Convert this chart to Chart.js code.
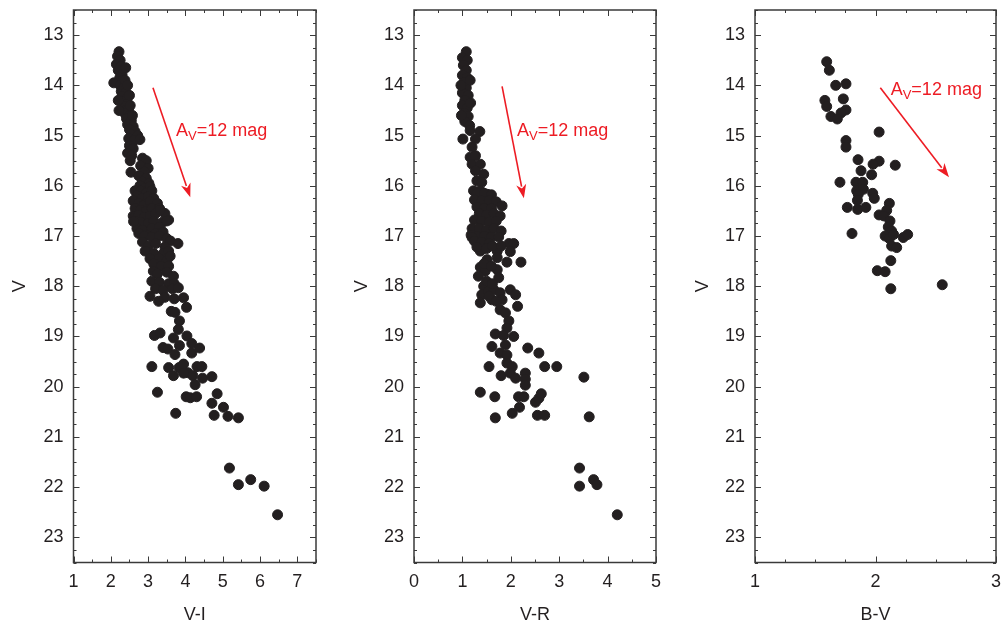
<!DOCTYPE html>
<html><head><meta charset="utf-8">
<script src="https://cdn.jsdelivr.net/npm/chart.js@4/dist/chart.umd.min.js"></script>
<style>
html,body{margin:0;padding:0;background:#fff;overflow:hidden}
#wrap{position:relative;width:1002px;height:629px;background:#fff}
canvas{position:absolute;top:0}
</style></head><body>
<div id="wrap">
<canvas id="c1" width="334" height="629" style="left:0px;width:334px;height:629px"></canvas>
<canvas id="c2" width="334" height="629" style="left:334px;width:334px;height:629px"></canvas>
<canvas id="c3" width="334" height="629" style="left:668px;width:334px;height:629px"></canvas>
</div>
<script>
// ---------- tick labels ----------
const magTicks = [13,14,15,16,17,18,19,20,21,22,23];
const viTicks = [1,2,3,4,5,6,7];
const vrTicks = [0,1,2,3,4,5];
const bvTicks = [1,2,3];
const titles = ['V-I','V-R','B-V'];
const yTitle = 'V';
const arrowLabel = ['A','V','=12 mag'];

// ---------- V-I vs V ----------
const viColor = [2.22,2.18,2.25,2.15,2.28,2.2,2.3,2.24,2.08,2.32,2.25,2.36,2.28,2.4,2.3,2.42,2.33,2.45,2.35,2.4,2.48,2.38,2.5,2.42,2.55,2.45,2.6,2.5,2.65,2.55,2.72,2.48,2.62,2.78,2.5,2.6,2.45,2.56,2.52,2.54,2.85,2.95,2.8,3.0,2.9,2.75,2.95,2.85,3.02,2.78,2.9,3.05,
 2.65,2.8,2.95,3.1,2.7,2.85,3.0,3.15,2.6,2.75,2.9,3.05,3.25,2.65,2.8,2.95,3.1,3.3,2.6,2.75,2.9,3.05,3.2,3.45,2.65,2.8,3.0,3.15,3.4,3.55,2.7,2.85,3.1,3.3,2.75,2.95,3.2,3.4,3.32,3.5,2.61,
 2.9,3.1,3.3,3.5,3.6,3.8,2.85,3.0,3.2,3.45,2.92,3.15,3.4,3.55,3.05,3.3,3.5,3.59,
 3.15,3.35,3.55,3.14,3.25,3.5,3.68,3.1,3.3,3.55,3.7,3.2,3.4,3.65,3.81,3.05,3.45,3.7,3.28,3.95,4.03,3.62,3.72,3.84,3.81,
 3.17,3.32,3.68,4.04,4.17,3.4,3.53,3.72,3.84,4.17,4.38,3.1,3.55,3.83,3.95,4.06,4.31,4.44,3.68,3.95,4.2,4.46,4.71,4.26,3.25,4.02,4.13,4.3,4.85,4.71,5.02,3.74,4.77,5.14,5.42,5.18,5.42,5.75,6.11,6.47,
 2.4,2.38,2.45,2.5,2.52,2.2,2.22,2.58];
const viMag = [13.33,13.42,13.5,13.58,13.62,13.7,13.78,13.85,13.95,13.9,14.0,14.05,14.12,14.15,14.22,14.27,14.32,14.36,14.42,14.5,14.46,14.56,14.6,14.66,14.7,14.78,14.82,14.88,14.92,14.98,15.0,15.06,15.1,15.08,15.2,15.26,15.35,15.4,15.5,15.73,15.45,15.5,15.6,15.65,15.72,15.8,15.85,15.92,15.95,16.0,16.05,16.02,
 16.1,16.1,16.15,16.1,16.2,16.25,16.22,16.25,16.3,16.35,16.38,16.32,16.35,16.45,16.48,16.5,16.45,16.45,16.6,16.58,16.62,16.6,16.55,16.55,16.7,16.72,16.75,16.7,16.72,16.68,16.85,16.88,16.85,16.82,16.95,16.98,16.95,16.92,16.48,16.7,16.71,
 17.0,17.02,17.0,17.05,17.1,17.15,17.12,17.2,17.15,17.22,17.3,17.35,17.35,17.3,17.45,17.45,17.5,17.4,
 17.55,17.6,17.6,17.7,17.75,17.72,17.8,17.9,17.92,17.95,17.95,18.05,18.08,18.05,18.03,18.2,18.22,18.25,18.3,18.23,18.42,18.5,18.52,18.69,18.86,
 18.98,18.93,19.03,18.99,19.14,19.22,19.25,19.36,19.18,19.33,19.23,19.6,19.62,19.62,19.55,19.72,19.6,19.6,19.78,19.73,19.78,19.83,19.8,19.96,20.11,20.2,20.22,20.2,20.14,20.33,20.41,20.53,20.57,20.59,20.62,21.62,21.95,21.85,21.98,22.55,
 13.65,13.9,14.0,14.2,14.4,14.3,14.5,14.6];

// ---------- V-R vs V ----------
const vrColor = [1.08,1.0,1.1,1.02,1.08,1.0,1.1,1.03,1.08,1.0,1.12,1.05,1.0,1.1,1.04,1.12,1.05,1.15,1.16,1.36,1.01,1.27,1.2,1.16,1.27,1.2,1.37,1.27,1.44,1.3,1.4,1.23,1.37,1.52,
 1.3,1.45,1.6,1.25,1.4,1.55,1.7,1.82,1.3,1.45,1.6,1.35,1.5,1.65,1.78,1.25,1.4,1.55,1.7,1.2,1.35,1.5,1.65,1.8,1.18,1.3,1.45,1.6,1.75,
 1.2,1.96,2.06,1.99,1.37,1.72,1.51,1.72,1.92,2.21,1.37,1.47,1.72,1.33,1.75,1.44,1.4,1.54,1.65,1.78,1.99,2.1,1.37,1.61,1.82,2.14,1.78,1.89,1.96,1.92,
 1.25,1.4,1.55,1.3,1.5,1.62,1.8,1.45,1.6,1.5,1.62,1.55,1.7,
 1.68,1.85,2.06,1.61,1.89,2.35,2.58,1.78,1.92,1.55,1.92,2.03,2.7,2.95,1.8,1.99,2.1,2.3,2.3,2.3,3.51,1.37,1.67,2.16,2.27,2.51,2.58,2.63,2.18,2.03,2.55,2.7,1.68,3.62,3.42,3.42,3.71,3.78,4.2,
 1.16,0.97,1.17,0.98];
const vrMag = [13.33,13.45,13.5,13.6,13.7,13.8,13.85,13.95,14.05,14.15,14.2,14.3,14.4,14.45,14.55,14.62,14.72,14.8,14.9,14.92,15.07,15.07,15.23,15.43,15.4,15.57,15.57,15.7,15.77,15.9,15.93,16.1,16.1,16.17,
 16.15,16.15,16.18,16.28,16.3,16.3,16.32,16.4,16.42,16.45,16.45,16.55,16.58,16.55,16.6,16.68,16.7,16.72,16.7,16.85,16.85,16.88,16.85,16.9,16.98,17.0,17.0,17.02,17.02,
 17.03,17.15,17.15,17.31,17.3,17.3,17.47,17.43,17.52,17.52,17.62,17.7,17.67,17.8,17.83,18.0,18.17,18.1,18.07,18.13,18.07,18.17,18.33,18.27,18.27,18.4,18.47,18.53,18.69,18.83,
 17.1,17.12,17.15,17.22,17.25,17.2,17.2,17.55,17.6,17.9,17.95,18.2,18.3,
 18.95,18.98,19.0,19.2,19.17,19.23,19.33,19.33,19.37,19.6,19.53,19.6,19.6,19.6,19.78,19.73,19.83,19.73,19.85,19.97,19.81,20.11,20.2,20.2,20.2,20.31,20.23,20.14,20.41,20.53,20.57,20.57,20.62,20.6,21.62,21.98,21.85,21.95,22.55,
 13.9,14.0,14.35,14.6];

// ---------- B-V vs V ----------
const bvColor = [1.595,1.617,1.67,1.755,1.58,1.595,1.733,1.755,1.714,1.63,1.683,2.03,1.755,1.755,1.855,2.03,1.98,2.164,1.88,1.968,1.705,1.838,1.894,1.844,1.9,1.857,1.977,1.99,1.85,1.766,1.852,1.92,2.115,2.093,2.03,2.07,2.12,2.106,2.134,2.08,2.115,2.15,2.23,2.267,2.134,2.176,1.805,2.127,2.015,2.08,2.127,2.554];
const bvMag = [13.53,13.7,14.0,13.97,14.3,14.42,14.27,14.49,14.55,14.62,14.67,14.93,15.1,15.23,15.48,15.51,15.57,15.59,15.7,15.78,15.93,15.93,15.93,16.1,16.07,16.17,16.15,16.25,16.29,16.43,16.47,16.43,16.35,16.49,16.58,16.6,16.7,16.82,16.9,17.0,17.05,16.97,17.03,16.97,17.2,17.23,16.95,17.49,17.69,17.71,18.05,17.97];

// ---------- reddening arrows [x0, V0, x1, V1] and label anchors [x, V] ----------
const arrowVI = [3.13,14.05,4.13,16.23];
const arrowVR = [1.82,14.02,2.27,16.25];
const arrowBV = [2.04,14.05,2.61,15.83];
const labelVI = [3.75,15.0];
const labelVR = [2.13,15.0];
const labelBV = [2.126,14.2];

const FONT = '"Liberation Sans", Arial, Helvetica, sans-serif';
const TXT = '#231f20';
const DOT = '#231f20';
const RED = '#ed1c24';

function makePlugin(cfg){
  return {
    id:'decor',
    afterDatasetsDraw(chart){
      const {ctx, chartArea:{left,right,top,bottom}, scales:{x,y}} = chart;
      ctx.save();
      ctx.strokeStyle = '#3a3a3a';
      ctx.lineWidth = 1.5;
      ctx.strokeRect(left, top, right-left, bottom-top);
      ctx.lineWidth = 1;
      const nx = Math.round((cfg.xMax - cfg.xMin)/cfg.xMinor);
      for (let i=0;i<=nx;i++){
        const v = cfg.xMin + i*cfg.xMinor;
        const major = Math.abs(v - Math.round(v)) < 1e-6;
        const len = major ? 6 : 3;
        const px = Math.round(x.getPixelForValue(v)) + 0.5;
        ctx.beginPath();
        ctx.moveTo(px,bottom); ctx.lineTo(px,bottom-len);
        ctx.moveTo(px,top); ctx.lineTo(px,top+len);
        ctx.stroke();
      }
      const ny = Math.round((23.5-12.5)/0.25);
      for (let i=0;i<=ny;i++){
        const v = 12.5 + i*0.25;
        const major = Math.abs(v - Math.round(v)) < 1e-6;
        const len = major ? 6 : 3;
        const py = Math.round(y.getPixelForValue(v)) + 0.5;
        ctx.beginPath();
        ctx.moveTo(left,py); ctx.lineTo(left+len,py);
        ctx.moveTo(right,py); ctx.lineTo(right-len,py);
        ctx.stroke();
      }
      const a = cfg.arrow;
      const x0 = x.getPixelForValue(a[0]), y0 = y.getPixelForValue(a[1]);
      const x1 = x.getPixelForValue(a[2]), y1 = y.getPixelForValue(a[3]);
      const ang = Math.atan2(y1-y0, x1-x0);
      const hl = 14, hw = 5;
      ctx.strokeStyle = RED; ctx.fillStyle = RED; ctx.lineWidth = 1.6;
      ctx.beginPath();
      ctx.moveTo(x0,y0);
      ctx.lineTo(x1 - (hl-2)*Math.cos(ang), y1 - (hl-2)*Math.sin(ang));
      ctx.stroke();
      ctx.beginPath();
      ctx.moveTo(x1,y1);
      ctx.lineTo(x1 - hl*Math.cos(ang) + hw*Math.sin(ang), y1 - hl*Math.sin(ang) - hw*Math.cos(ang));
      ctx.lineTo(x1 - (hl-4)*Math.cos(ang), y1 - (hl-4)*Math.sin(ang));
      ctx.lineTo(x1 - hl*Math.cos(ang) - hw*Math.sin(ang), y1 - hl*Math.sin(ang) + hw*Math.cos(ang));
      ctx.closePath();
      ctx.fill();
      const lx = x.getPixelForValue(cfg.label[0]), ly = y.getPixelForValue(cfg.label[1]);
      ctx.textBaseline = 'alphabetic'; ctx.textAlign = 'left';
      ctx.font = '18px ' + FONT;
      ctx.fillText(arrowLabel[0], lx, ly);
      let cx = lx + ctx.measureText(arrowLabel[0]).width;
      ctx.font = '13px ' + FONT;
      ctx.fillText(arrowLabel[1], cx, ly + 4);
      cx += ctx.measureText(arrowLabel[1]).width;
      ctx.font = '18px ' + FONT;
      ctx.fillText(arrowLabel[2], cx, ly);
      ctx.restore();
    }
  };
}

function noPad(s){ s.paddingTop = 0; s.paddingBottom = 0; s.paddingLeft = 0; s.paddingRight = 0; }

function makePanel(id, cfg){
  const W = 334;
  const pts = cfg.xs.map((v,i)=>({x:v, y:cfg.ys[i]}));
  new Chart(document.getElementById(id), {
    type:'scatter',
    data:{datasets:[{data:pts, pointRadius:5, pointBorderWidth:1, pointBackgroundColor:DOT, pointBorderColor:DOT, showLine:false}]},
    options:{
      responsive:false, animation:false, events:[],
      layout:{padding:{left:0, top:10, right: W - cfg.right, bottom:0}},
      plugins:{legend:{display:false}, tooltip:{enabled:false}},
      scales:{
        x:{type:'linear', min:cfg.xMin, max:cfg.xMax,
          afterBuildTicks:s=>{ s.ticks = cfg.xTicks.map(v=>({value:v})); },
          afterFit:s=>{ s.height = 629 - 562.5; noPad(s); },
          grid:{display:false, drawTicks:false}, border:{display:false},
          ticks:{padding:9, color:TXT, font:{family:FONT, size:18}, autoSkip:false, maxRotation:0},
          title:{display:true, text:cfg.xTitle, color:TXT, font:{family:FONT, size:18}, padding:{top:0, bottom:3}}
        },
        y:{type:'linear', reverse:true, min:12.5, max:23.5,
          afterBuildTicks:s=>{ s.ticks = magTicks.map(v=>({value:v})); },
          afterFit:s=>{ s.width = cfg.left; noPad(s); },
          grid:{display:false, drawTicks:false}, border:{display:false},
          ticks:{padding:10, color:TXT, font:{family:FONT, size:18}, autoSkip:false},
          title:{display:true, text:yTitle, color:TXT, font:{family:FONT, size:18}, padding:{top:cfg.titlePad, bottom:0}}
        }
      }
    },
    plugins:[makePlugin(cfg)]
  });
}

makePanel('c1', {xs:viColor, ys:viMag, xMin:1, xMax:7.5, xMinor:0.5, xTicks:viTicks, xTitle:titles[0], left:73.5, right:316, titlePad:9, arrow:arrowVI, label:labelVI});
makePanel('c2', {xs:vrColor, ys:vrMag, xMin:0, xMax:5, xMinor:0.5, xTicks:vrTicks, xTitle:titles[1], left:80, right:322, titlePad:17, arrow:arrowVR, label:labelVR});
makePanel('c3', {xs:bvColor, ys:bvMag, xMin:1, xMax:3, xMinor:0.25, xTicks:bvTicks, xTitle:titles[2], left:87, right:328, titlePad:24, arrow:arrowBV, label:labelBV});
</script>
</body></html>
